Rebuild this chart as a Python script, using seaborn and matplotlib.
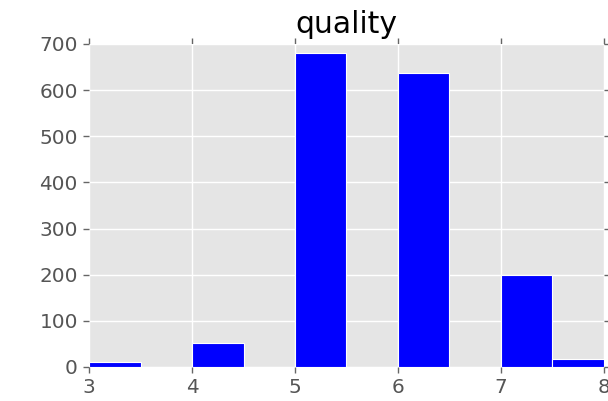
import numpy as np
import pandas as pd
import matplotlib
matplotlib.use("Agg")
import matplotlib.pyplot as plt
import seaborn as sns

# Red wine quality scores and how many wines received each score
quality_levels = [3, 4, 5, 6, 7, 8]
wine_counts = [10, 53, 681, 638, 199, 18]

y_ticks = [0, 100, 200, 300, 400, 500, 600, 700]
x_ticks = [3, 4, 5, 6, 7, 8]

df = pd.DataFrame({"quality": np.repeat(quality_levels, wine_counts)})

sns.set_style("darkgrid", {
    "axes.facecolor": "#E5E5E5",
    "grid.color": "white",
    "axes.edgecolor": "white",
})
plt.rcParams["font.family"] = ["DejaVu Sans"]

fig = plt.figure(figsize=(6.08, 4.01), dpi=100)
ax = fig.add_axes([0.1464, 0.0848, 0.847, 0.8055])

sns.histplot(data=df, x="quality", bins=10, binrange=(3, 8), color="#0000FF",
             edgecolor="white", linewidth=0.8, alpha=1.0, ax=ax)

ax.set_xlim(3, 8)
ax.set_ylim(0, 700)
ax.set_xticks(x_ticks)
ax.set_yticks(y_ticks)
ax.set_xlabel("")
ax.set_ylabel("")
ax.set_title("quality", fontsize=21.5, pad=8, color="black")

ax.tick_params(axis="both", which="both", direction="out", length=4, width=1,
               color="#666666", labelcolor="#555555", labelsize=14.4,
               top=True, right=True, bottom=True, left=True, pad=4)
for s in ax.spines.values():
    s.set_visible(False)
ax.grid(True, color="white", linewidth=1)
ax.set_axisbelow(True)

fig.savefig("out.png", dpi=100)
